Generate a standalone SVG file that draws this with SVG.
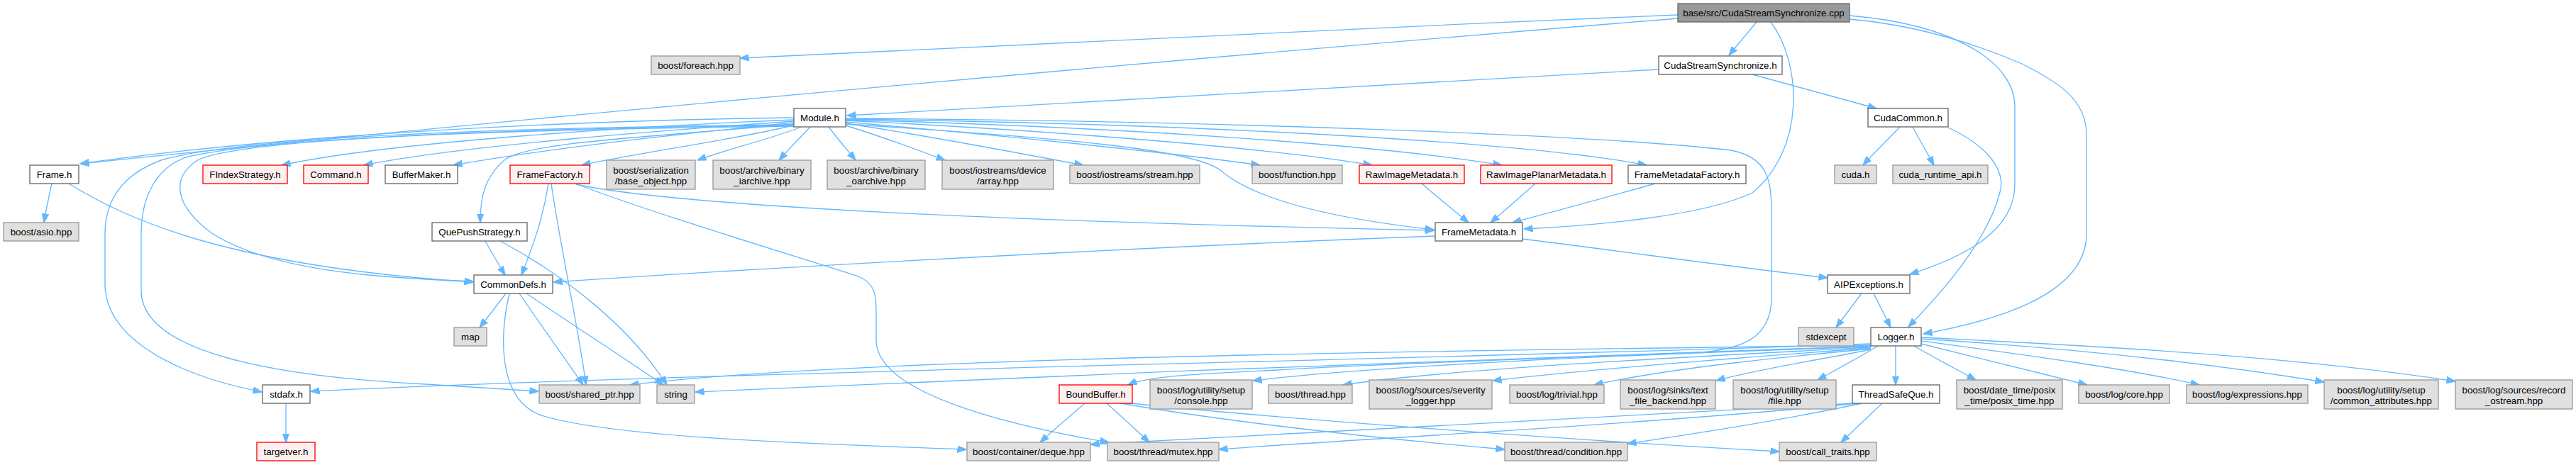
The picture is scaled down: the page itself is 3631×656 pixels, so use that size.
<svg xmlns="http://www.w3.org/2000/svg" width="3631" height="656" viewBox="0 0 3631 656">
<style>
rect{stroke-width:1.33}
.norm rect{fill:#fff;stroke:#666}
.ext rect{fill:#e0e0e0;stroke:#999}
.red rect{fill:#fff0f0;stroke:#ff0000}
.root rect{fill:#999;stroke:#666}
text{font-family:"Liberation Sans",Arial,sans-serif;font-size:13.33px;text-anchor:middle;fill:#000}
#edges path{fill:none;stroke:#63b8ff;stroke-width:1.33;marker-end:url(#a)}
</style>
<defs>
<marker id="a" viewBox="0 0 13 10" refX="12.5" refY="5" markerWidth="13" markerHeight="10" markerUnits="userSpaceOnUse" orient="auto">
<path d="M0,0.3 L13,5 L0,9.7 z" fill="#63b8ff" stroke="#63b8ff" stroke-width="1"/>
</marker>
</defs>
<rect width="3631" height="656" fill="#fff" style="stroke:none"/>
<g id="edges">
<path d="M2365,21 C1900,40 1400,65 1043,82"/>
<path d="M2365,26 C1700,80 800,160 113,231"/>
<path d="M2476,31 C2462,48 2450,62 2437,78"/>
<path d="M2496,31 C2540,90 2545,210 2470,272 C2400,305 2250,318 2148,323"/>
<path d="M2607,22 C2760,35 2840,90 2840,150 L2840,260 C2840,330 2760,365 2692,387"/>
<path d="M2607,27 C2700,35 2780,60 2850,90 C2900,115 2941,140 2941,190 L2941,330 C2941,420 2800,455 2711,471"/>
<path d="M2338,98 C1900,120 1500,145 1194,163"/>
<path d="M2470,105 C2530,122 2590,138 2645,153"/>
<path d="M2678,179 C2660,198 2642,215 2626,233"/>
<path d="M2696,179 C2706,198 2716,215 2726,233"/>
<path d="M2746,180 C2800,205 2830,240 2818,275 C2800,340 2740,410 2690,461"/>
<path d="M1119,166 C800,170 400,190 113,231"/>
<path d="M1119,169 C900,178 550,200 397,233"/>
<path d="M1119,171 C950,183 650,205 513,233"/>
<path d="M1119,173 C1000,185 800,205 639,233"/>
<path d="M1121,176 C1050,195 900,215 820,233"/>
<path d="M1130,179 C1080,198 1020,212 983,226"/>
<path d="M1142,179 C1127,195 1112,210 1098,226"/>
<path d="M1168,179 C1180,195 1193,210 1206,226"/>
<path d="M1192,177 C1240,192 1290,210 1332,226"/>
<path d="M1192,174 C1300,190 1430,215 1527,233"/>
<path d="M1192,172 C1400,190 1650,215 1776,233"/>
<path d="M1192,170 C1500,185 1800,210 1934,233"/>
<path d="M1192,169 C1600,180 1950,205 2117,233"/>
<path d="M1192,168 C1700,175 2150,200 2321,233"/>
<path d="M1192,175 C1500,195 1680,210 1720,240 C1760,275 1850,305 2021,324"/>
<path d="M1192,167 C1700,170 2250,190 2440,212 C2490,222 2497,250 2497,300 L2497,420 C2497,480 2450,492 2400,497 C2200,505 1900,515 1800,522 C1700,527 1620,530 1590,543"/>
<path d="M1119,175 C900,195 750,200 712,225 C682,250 677,280 677,314"/>
<path d="M1119,178 C700,183 350,195 280,225 C240,250 245,290 300,330 C380,380 520,392 667,397"/>
<path d="M97,259 C180,310 320,375 667,398"/>
<path d="M73,259 C69,277 65,295 62,314"/>
<path d="M1119,176 C700,180 350,193 230,225 C165,248 148,290 148,330 L148,400 C148,470 230,525 369,553"/>
<path d="M1119,177 C700,181 360,197 262,222 C212,240 199,290 199,330 L199,410 C199,500 400,532 600,542 C680,547 720,550 759,552"/>
<path d="M773,259 C765,310 750,350 735,388"/>
<path d="M777,259 C790,350 815,460 826,543"/>
<path d="M812,259 C900,295 1150,370 1210,390 C1235,400 1235,420 1235,440 L1235,480 C1235,560 1450,605 1563,624"/>
<path d="M812,260 C950,290 1400,312 2022,325"/>
<path d="M684,340 C693,356 702,372 712,388"/>
<path d="M705,340 C780,380 880,450 940,543"/>
<path d="M713,414 C701,430 689,446 676,462"/>
<path d="M732,414 C762,458 792,500 822,543"/>
<path d="M742,414 C807,458 872,500 935,543"/>
<path d="M718,414 C705,470 700,560 760,585 C850,615 1100,625 1362,634"/>
<path d="M2023,333 C1700,345 1200,370 780,398"/>
<path d="M2146,337 C2290,355 2430,375 2576,392"/>
<path d="M2624,414 C2612,430 2600,446 2588,462"/>
<path d="M2641,414 C2649,430 2657,446 2665,462"/>
<path d="M2004,259 C2026,278 2048,296 2070,314"/>
<path d="M2164,259 C2143,278 2122,296 2101,314"/>
<path d="M2333,259 C2266,278 2199,296 2132,314"/>
<path d="M403,569 L403,624"/>
<path d="M2637,485 C2100,505 1000,525 438,552"/>
<path d="M2637,487 C2000,495 1200,505 888,543"/>
<path d="M2637,488 C2200,500 1500,530 980,553"/>
<path d="M2637,489 C2300,500 1950,515 1766,537"/>
<path d="M2637,490 C2350,505 2050,520 1893,543"/>
<path d="M2637,491 C2450,505 2250,520 2104,537"/>
<path d="M2637,492 C2500,505 2350,520 2247,543"/>
<path d="M2637,493 C2580,505 2480,520 2419,537"/>
<path d="M2647,488 C2619,505 2591,520 2562,536"/>
<path d="M2672,488 L2672,543"/>
<path d="M2698,488 C2727,505 2756,520 2785,536"/>
<path d="M2708,485 C2790,505 2870,525 2942,543"/>
<path d="M2708,481 C2850,500 3000,520 3100,543"/>
<path d="M2708,478 C2900,490 3100,510 3276,539"/>
<path d="M2708,476 C3000,490 3250,505 3461,538"/>
<path d="M2653,569 C2634,587 2615,605 2595,624"/>
<path d="M2625,569 C2500,595 2400,610 2294,626"/>
<path d="M2620,569 C2300,600 1900,620 1718,634"/>
<path d="M2615,569 C2200,590 1800,610 1537,627"/>
<path d="M1529,569 C1508,587 1487,605 1466,624"/>
<path d="M1560,569 C1580,587 1600,605 1620,624"/>
<path d="M1580,569 C1700,590 1900,615 2121,634"/>
<path d="M1584,568 C1800,590 2200,620 2508,637"/>
</g>
<g id="n_cpp" class="root"><rect x="2365" y="5" width="242" height="26"/><text x="2486" y="22.7">base/src/CudaStreamSynchronize.cpp</text></g>
<g id="n_foreach" class="ext"><rect x="918" y="79" width="125" height="26"/><text x="980.5" y="96.7">boost/foreach.hpp</text></g>
<g id="n_css" class="norm"><rect x="2338" y="79" width="174" height="26"/><text x="2425" y="96.7">CudaStreamSynchronize.h</text></g>
<g id="n_module" class="norm"><rect x="1119" y="153" width="73" height="26"/><text x="1155.5" y="170.7">Module.h</text></g>
<g id="n_cudacommon" class="norm"><rect x="2633" y="153" width="113" height="26"/><text x="2689.5" y="170.7">CudaCommon.h</text></g>
<g id="n_frame" class="norm"><rect x="42" y="233" width="69" height="26"/><text x="76.5" y="250.7">Frame.h</text></g>
<g id="n_findex" class="red"><rect x="286" y="233" width="119" height="26"/><text x="345.5" y="250.7">FIndexStrategy.h</text></g>
<g id="n_command" class="red"><rect x="428" y="233" width="91" height="26"/><text x="473.5" y="250.7">Command.h</text></g>
<g id="n_buffermaker" class="norm"><rect x="543" y="233" width="102" height="26"/><text x="594" y="250.7">BufferMaker.h</text></g>
<g id="n_framefactory" class="red"><rect x="719" y="233" width="112" height="26"/><text x="775" y="250.7">FrameFactory.h</text></g>
<g id="n_baseobj" class="ext"><rect x="855" y="226" width="125" height="41"/><text x="917.5" y="244.7">boost/serialization</text><text x="917.5" y="259.7">/base_object.hpp</text></g>
<g id="n_iarch" class="ext"><rect x="1005" y="226" width="138" height="41"/><text x="1074" y="244.7">boost/archive/binary</text><text x="1074" y="259.7">_iarchive.hpp</text></g>
<g id="n_oarch" class="ext"><rect x="1166" y="226" width="138" height="41"/><text x="1235" y="244.7">boost/archive/binary</text><text x="1235" y="259.7">_oarchive.hpp</text></g>
<g id="n_array" class="ext"><rect x="1328" y="226" width="157" height="41"/><text x="1406.5" y="244.7">boost/iostreams/device</text><text x="1406.5" y="259.7">/array.hpp</text></g>
<g id="n_stream" class="ext"><rect x="1508" y="233" width="183" height="26"/><text x="1599.5" y="250.7">boost/iostreams/stream.hpp</text></g>
<g id="n_function" class="ext"><rect x="1765" y="233" width="127" height="26"/><text x="1828.5" y="250.7">boost/function.hpp</text></g>
<g id="n_rawimg" class="red"><rect x="1916" y="233" width="148" height="26"/><text x="1990" y="250.7">RawImageMetadata.h</text></g>
<g id="n_rawplanar" class="red"><rect x="2087" y="233" width="185" height="26"/><text x="2179.5" y="250.7">RawImagePlanarMetadata.h</text></g>
<g id="n_fmfactory" class="norm"><rect x="2295" y="233" width="166" height="26"/><text x="2378" y="250.7">FrameMetadataFactory.h</text></g>
<g id="n_cuda" class="ext"><rect x="2586" y="233" width="59" height="26"/><text x="2615.5" y="250.7">cuda.h</text></g>
<g id="n_cudart" class="ext"><rect x="2668" y="233" width="134" height="26"/><text x="2735" y="250.7">cuda_runtime_api.h</text></g>
<g id="n_asio" class="ext"><rect x="5" y="314" width="106" height="26"/><text x="58" y="331.7">boost/asio.hpp</text></g>
<g id="n_quepush" class="norm"><rect x="609" y="314" width="134" height="26"/><text x="676" y="331.7">QuePushStrategy.h</text></g>
<g id="n_framemeta" class="norm"><rect x="2023" y="314" width="123" height="26"/><text x="2084.5" y="331.7">FrameMetadata.h</text></g>
<g id="n_commondefs" class="norm"><rect x="668" y="388" width="111" height="26"/><text x="723.5" y="405.7">CommonDefs.h</text></g>
<g id="n_aipexc" class="norm"><rect x="2576" y="388" width="116" height="26"/><text x="2634" y="405.7">AIPExceptions.h</text></g>
<g id="n_map" class="ext"><rect x="640" y="462" width="46" height="26"/><text x="663" y="479.7">map</text></g>
<g id="n_stdexcept" class="ext"><rect x="2535" y="462" width="78" height="26"/><text x="2574" y="479.7">stdexcept</text></g>
<g id="n_logger" class="norm"><rect x="2637" y="462" width="71" height="26"/><text x="2672.5" y="479.7">Logger.h</text></g>
<g id="n_stdafx" class="norm"><rect x="370" y="543" width="67" height="26"/><text x="403.5" y="560.7">stdafx.h</text></g>
<g id="n_sharedptr" class="ext"><rect x="760" y="543" width="142" height="26"/><text x="831" y="560.7">boost/shared_ptr.hpp</text></g>
<g id="n_string" class="ext"><rect x="926" y="543" width="53" height="26"/><text x="952.5" y="560.7">string</text></g>
<g id="n_boundbuffer" class="red"><rect x="1493" y="543" width="103" height="26"/><text x="1544.5" y="560.7">BoundBuffer.h</text></g>
<g id="n_console" class="ext"><rect x="1621" y="536" width="144" height="41"/><text x="1693" y="554.7">boost/log/utility/setup</text><text x="1693" y="569.7">/console.hpp</text></g>
<g id="n_thread" class="ext"><rect x="1788" y="543" width="118" height="26"/><text x="1847" y="560.7">boost/thread.hpp</text></g>
<g id="n_severity" class="ext"><rect x="1930" y="536" width="173" height="41"/><text x="2016.5" y="554.7">boost/log/sources/severity</text><text x="2016.5" y="569.7">_logger.hpp</text></g>
<g id="n_trivial" class="ext"><rect x="2128" y="543" width="133" height="26"/><text x="2194.5" y="560.7">boost/log/trivial.hpp</text></g>
<g id="n_textfile" class="ext"><rect x="2284" y="536" width="134" height="41"/><text x="2351" y="554.7">boost/log/sinks/text</text><text x="2351" y="569.7">_file_backend.hpp</text></g>
<g id="n_file" class="ext"><rect x="2443" y="536" width="145" height="41"/><text x="2515.5" y="554.7">boost/log/utility/setup</text><text x="2515.5" y="569.7">/file.hpp</text></g>
<g id="n_tsq" class="norm"><rect x="2611" y="543" width="123" height="26"/><text x="2672.5" y="560.7">ThreadSafeQue.h</text></g>
<g id="n_posix" class="ext"><rect x="2758" y="536" width="149" height="41"/><text x="2832.5" y="554.7">boost/date_time/posix</text><text x="2832.5" y="569.7">_time/posix_time.hpp</text></g>
<g id="n_core" class="ext"><rect x="2930" y="543" width="128" height="26"/><text x="2994" y="560.7">boost/log/core.hpp</text></g>
<g id="n_expr" class="ext"><rect x="3082" y="543" width="171" height="26"/><text x="3167.5" y="560.7">boost/log/expressions.hpp</text></g>
<g id="n_commonattr" class="ext"><rect x="3276" y="536" width="161" height="41"/><text x="3356.5" y="554.7">boost/log/utility/setup</text><text x="3356.5" y="569.7">/common_attributes.hpp</text></g>
<g id="n_record" class="ext"><rect x="3461" y="536" width="165" height="41"/><text x="3543.5" y="554.7">boost/log/sources/record</text><text x="3543.5" y="569.7">_ostream.hpp</text></g>
<g id="n_targetver" class="red"><rect x="362" y="624" width="82" height="26"/><text x="403" y="641.7">targetver.h</text></g>
<g id="n_deque" class="ext"><rect x="1363" y="624" width="174" height="26"/><text x="1450" y="641.7">boost/container/deque.hpp</text></g>
<g id="n_mutex" class="ext"><rect x="1561" y="624" width="157" height="26"/><text x="1639.5" y="641.7">boost/thread/mutex.hpp</text></g>
<g id="n_condition" class="ext"><rect x="2121" y="624" width="173" height="26"/><text x="2207.5" y="641.7">boost/thread/condition.hpp</text></g>
<g id="n_calltraits" class="ext"><rect x="2508" y="624" width="137" height="26"/><text x="2576.5" y="641.7">boost/call_traits.hpp</text></g>
</svg>
